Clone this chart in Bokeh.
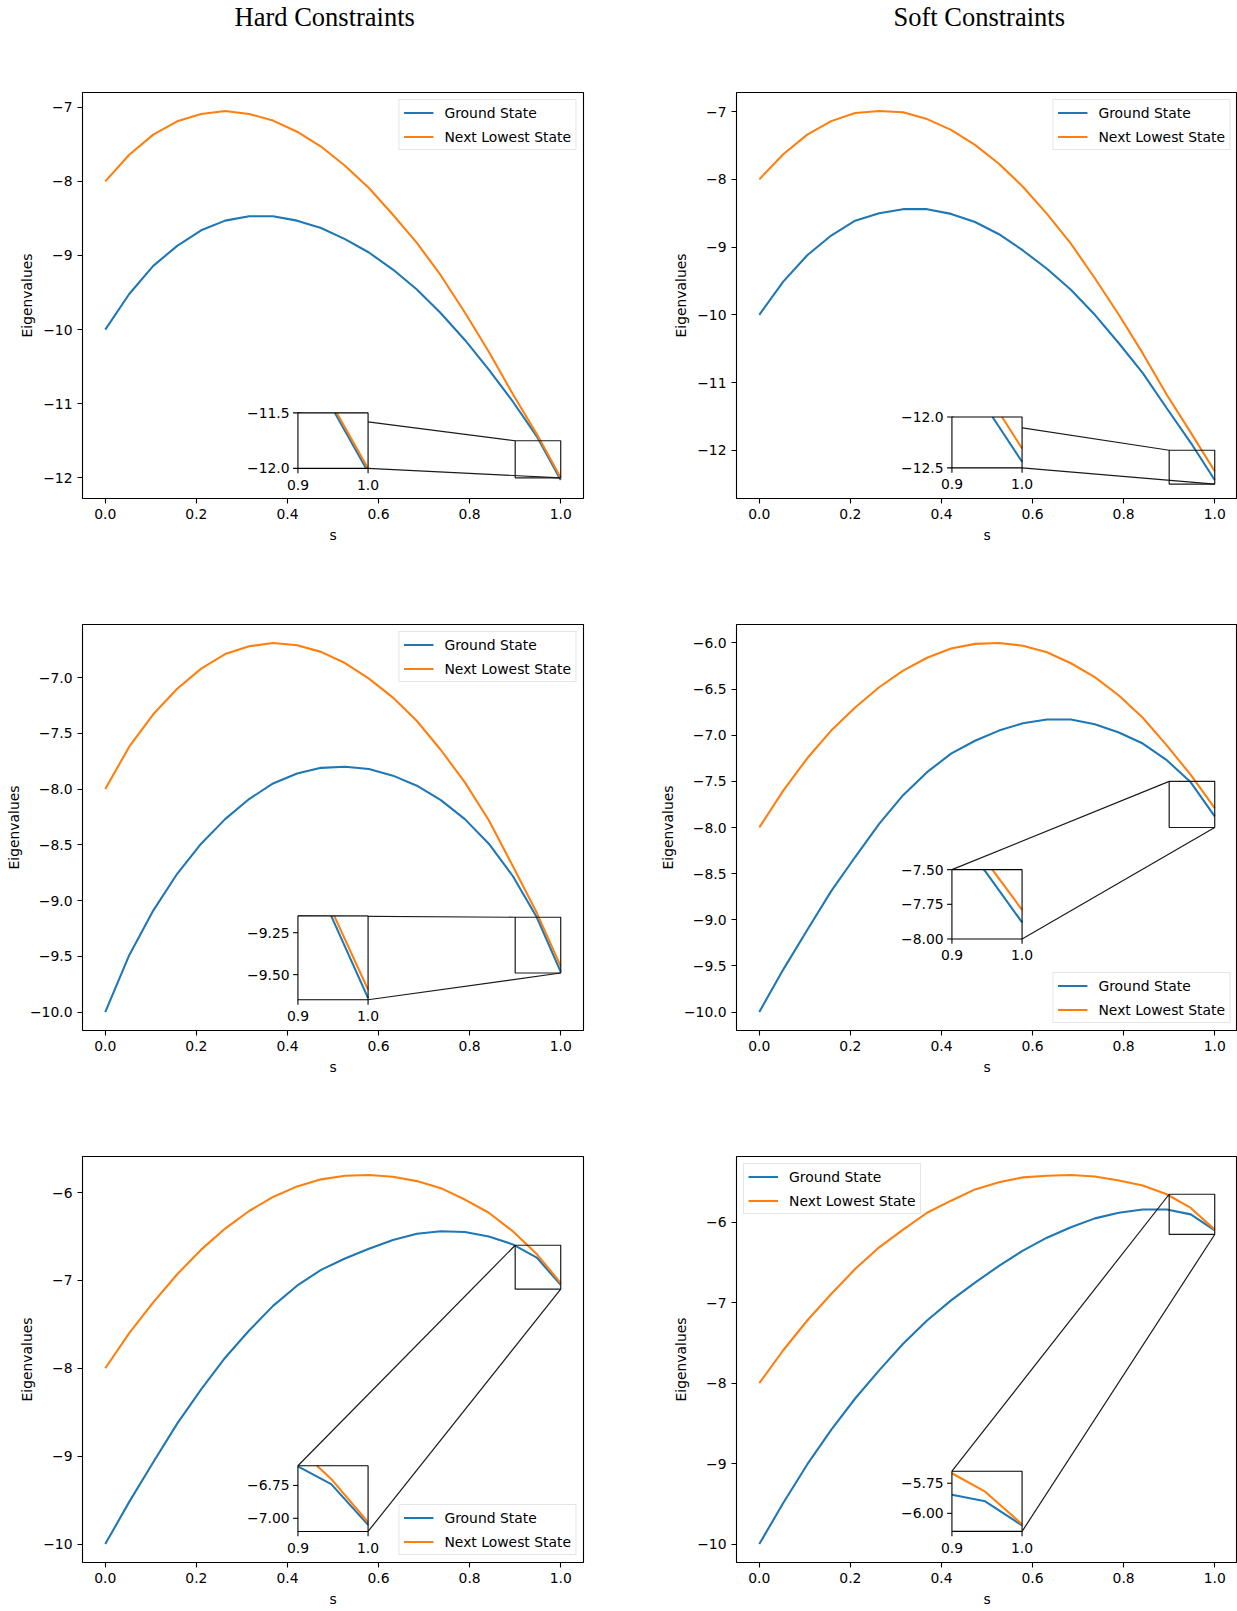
import numpy as np
from bokeh.plotting import figure
from bokeh.layouts import column, row
from bokeh.models import Range1d, FixedTicker, CustomJSTickFormatter
from bokeh.core.properties import value
from bokeh.embed import file_html
from bokeh.resources import INLINE

# ---------------- data ----------------
s = [0.0, 0.0526, 0.1053, 0.1579, 0.2105, 0.2632, 0.3158, 0.3684, 0.4211, 0.4737,
     0.5263, 0.5789, 0.6316, 0.6842, 0.7368, 0.7895, 0.8421, 0.8947, 0.9474, 1.0]

hard1_ground = [-10.00, -9.52, -9.14, -8.87, -8.66, -8.53, -8.47, -8.47, -8.53, -8.63,
                -8.78, -8.96, -9.19, -9.46, -9.78, -10.14, -10.54, -10.97, -11.44, -12.03]
hard1_next = [-8.00, -7.64, -7.37, -7.19, -7.09, -7.05, -7.09, -7.18, -7.33, -7.53,
              -7.79, -8.09, -8.45, -8.83, -9.27, -9.77, -10.30, -10.87, -11.41, -12.00]

soft1_ground = [-10.00, -9.51, -9.12, -8.83, -8.61, -8.50, -8.44, -8.44, -8.51, -8.63,
                -8.81, -9.05, -9.32, -9.63, -10.00, -10.42, -10.86, -11.38, -11.89, -12.44]
soft1_next = [-8.00, -7.63, -7.34, -7.14, -7.02, -6.99, -7.01, -7.11, -7.27, -7.49,
              -7.77, -8.11, -8.51, -8.95, -9.46, -10.00, -10.57, -11.18, -11.74, -12.31]

hard2_ground = [-10.00, -9.49, -9.09, -8.76, -8.49, -8.27, -8.09, -7.95, -7.86, -7.81,
                -7.80, -7.82, -7.88, -7.97, -8.10, -8.27, -8.49, -8.78, -9.15, -9.64]
hard2_next = [-8.00, -7.62, -7.33, -7.10, -6.92, -6.79, -6.72, -6.69, -6.71, -6.77,
              -6.87, -7.01, -7.18, -7.39, -7.65, -7.94, -8.28, -8.69, -9.11, -9.59]

soft2_ground = [-10.00, -9.54, -9.11, -8.69, -8.32, -7.96, -7.65, -7.40, -7.20, -7.06,
                -6.95, -6.87, -6.83, -6.83, -6.88, -6.97, -7.09, -7.27, -7.51, -7.88]
soft2_next = [-8.00, -7.60, -7.25, -6.95, -6.70, -6.48, -6.30, -6.16, -6.06, -6.01,
              -6.00, -6.03, -6.10, -6.22, -6.37, -6.57, -6.81, -7.11, -7.43, -7.79]

hard3_ground = [-10.00, -9.52, -9.07, -8.63, -8.24, -7.88, -7.57, -7.29, -7.06, -6.88,
                -6.75, -6.64, -6.54, -6.47, -6.44, -6.45, -6.50, -6.59, -6.74, -7.05]
hard3_next = [-8.00, -7.60, -7.25, -6.93, -6.65, -6.41, -6.21, -6.05, -5.93, -5.85,
              -5.81, -5.80, -5.82, -5.87, -5.95, -6.08, -6.23, -6.44, -6.70, -7.03]

soft3_ground = [-10.00, -9.49, -9.01, -8.58, -8.19, -7.84, -7.51, -7.22, -6.97, -6.75,
                -6.54, -6.35, -6.19, -6.06, -5.95, -5.88, -5.84, -5.84, -5.90, -6.10]
soft3_next = [-8.00, -7.59, -7.22, -6.89, -6.58, -6.31, -6.09, -5.88, -5.73, -5.59,
              -5.50, -5.44, -5.42, -5.41, -5.43, -5.48, -5.54, -5.65, -5.82, -6.09]

column_titles = ["Hard Constraints", "Soft Constraints"]
series_names = ["Ground State", "Next Lowest State"]
x_label = "s"
y_label = "Eigenvalues"

x_ticks = [0.0, 0.2, 0.4, 0.6, 0.8, 1.0]
x_tick_labels = ["0.0", "0.2", "0.4", "0.6", "0.8", "1.0"]

y_ticks_int_12 = [-12, -11, -10, -9, -8, -7]
y_labels_int_12 = ["\u221212", "\u221211", "\u221210", "\u22129", "\u22128", "\u22127"]
y_ticks_half = [-10.0, -9.5, -9.0, -8.5, -8.0, -7.5, -7.0, -6.5, -6.0]
y_labels_half = ["\u221210.0", "\u22129.5", "\u22129.0", "\u22128.5", "\u22128.0",
                 "\u22127.5", "\u22127.0", "\u22126.5", "\u22126.0"]
y_ticks_int_10 = [-10, -9, -8, -7, -6]
y_labels_int_10 = ["\u221210", "\u22129", "\u22128", "\u22127", "\u22126"]

zoom_x = [0.9, 1.0]
zoom_x_labels = ["0.9", "1.0"]
hard1_zoom_y = [-12.0, -11.5]
hard1_zoom_ticks = [-12.0, -11.5]
hard1_zoom_labels = ["\u221212.0", "\u221211.5"]
soft1_zoom_y = [-12.5, -12.0]
soft1_zoom_ticks = [-12.5, -12.0]
soft1_zoom_labels = ["\u221212.5", "\u221212.0"]
hard2_zoom_y = [-9.65, -9.15]
hard2_zoom_ticks = [-9.50, -9.25]
hard2_zoom_labels = ["\u22129.50", "\u22129.25"]
soft2_zoom_y = [-8.0, -7.5]
soft2_zoom_ticks = [-8.00, -7.75, -7.50]
soft2_zoom_labels = ["\u22128.00", "\u22127.75", "\u22127.50"]
hard3_zoom_y = [-7.10, -6.60]
hard3_zoom_ticks = [-7.00, -6.75]
hard3_zoom_labels = ["\u22127.00", "\u22126.75"]
soft3_zoom_y = [-6.15, -5.65]
soft3_zoom_ticks = [-6.00, -5.75]
soft3_zoom_labels = ["\u22126.00", "\u22125.75"]

# ---------------- styling / layout ----------------
BLUE = "#1f77b4"
ORANGE = "#ff7f0e"
FONT = "DejaVu Sans"
FS = "13.9px"
TICK = 4.86

PAGE_W = 1237
TITLE_H = 40
title_centers_px = [324.2, 978.7]   # horizontal centres of the column titles
title_baseline_px = 16              # text anchor, from top of title strip

inset_x_place = (0.423, 0.577)   # where the inset box sits (parent data coords)


def tick_formatter(tvals, tlabels):
    return CustomJSTickFormatter(args=dict(tvals=tvals, tlabels=tlabels), code="""
        for (let i = 0; i < tvals.length; i++) {
            if (Math.abs(tvals[i] - tick) < 1e-6) { return tlabels[i]; }
        }
        return '';
    """)


def clip_polyline(x, y, x0, x1, y0, y1):
    out_x, out_y = [], []
    cx, cy = [], []

    def flush():
        nonlocal cx, cy
        if len(cx) > 1:
            out_x.append(cx)
            out_y.append(cy)
        cx, cy = [], []

    for i in range(len(x) - 1):
        ax, ay, bx, by = x[i], y[i], x[i + 1], y[i + 1]
        dx, dy = bx - ax, by - ay
        t0, t1 = 0.0, 1.0
        ok = True
        for pp, qq in ((-dx, ax - x0), (dx, x1 - ax), (-dy, ay - y0), (dy, y1 - ay)):
            if pp == 0:
                if qq < 0:
                    ok = False
                    break
            else:
                t = qq / pp
                if pp < 0:
                    if t > t1:
                        ok = False
                        break
                    t0 = max(t0, t)
                else:
                    if t < t0:
                        ok = False
                        break
                    t1 = min(t1, t)
        if not ok:
            flush()
            continue
        px0, py0 = ax + t0 * dx, ay + t0 * dy
        px1, py1 = ax + t1 * dx, ay + t1 * dy
        if cx and abs(cx[-1] - px0) < 1e-12 and abs(cy[-1] - py0) < 1e-12:
            cx.append(px1)
            cy.append(py1)
        else:
            flush()
            cx, cy = [px0, px1], [py0, py1]
    flush()
    return out_x, out_y


def build(ground, nxt, yticks, ylabels, zoom_y, zticks, zlabels, inset_y_place,
          legend_loc, width, height, bl, br, bt, bb, ylab_standoff=5):
    lo = min(min(ground), min(nxt))
    hi = max(max(ground), max(nxt))
    pad = 0.05 * (hi - lo)
    p = figure(width=width, height=height,
               x_range=Range1d(-0.05, 1.05), y_range=Range1d(lo - pad, hi + pad),
               output_backend="svg", toolbar_location=None, title=None,
               min_border=0, min_border_left=bl, min_border_right=br,
               min_border_top=bt, min_border_bottom=bb)
    p.background_fill_color = "white"
    p.border_fill_color = "white"
    p.xgrid.visible = False
    p.ygrid.visible = False
    p.outline_line_color = "black"
    p.outline_line_width = 1.1
    p.outline_line_alpha = 1.0

    p.xaxis.ticker = FixedTicker(ticks=x_ticks)
    p.xaxis.formatter = tick_formatter(x_ticks, x_tick_labels)
    p.yaxis.ticker = FixedTicker(ticks=yticks)
    p.yaxis.formatter = tick_formatter(yticks, ylabels)
    p.xaxis.axis_label = x_label
    p.yaxis.axis_label = y_label
    for ax in (p.xaxis, p.yaxis):
        ax.axis_line_color = None
        ax.major_tick_out = 5
        ax.major_tick_in = 0
        ax.minor_tick_out = 0
        ax.minor_tick_in = 0
        ax.major_tick_line_color = "black"
        ax.major_tick_line_width = 1.1
        ax.major_label_text_font = FONT
        ax.major_label_text_font_size = FS
        ax.major_label_text_color = "black"
        ax.axis_label_text_font = FONT
        ax.axis_label_text_font_size = FS
        ax.axis_label_text_font_style = "normal"
        ax.axis_label_text_color = "black"
        ax.major_label_standoff = 5
    p.xaxis.axis_label_standoff = 5
    p.yaxis.axis_label_standoff = ylab_standoff

    p.line(s, ground, line_color=BLUE, line_width=2.08, legend_label=series_names[0])
    p.line(s, nxt, line_color=ORANGE, line_width=2.08, legend_label=series_names[1])

    # zoom indicator in parent axes
    zx0, zx1 = zoom_x
    zy0, zy1 = zoom_y
    ix0, ix1 = inset_x_place
    iy0, iy1 = inset_y_place
    p.quad(left=[zx0], right=[zx1], bottom=[zy0], top=[zy1], fill_color=None,
           line_color="#1a1a1a", line_width=1.2)
    p.segment(x0=[ix0, ix1], y0=[iy1, iy0], x1=[zx0, zx1], y1=[zy1, zy0],
              line_color="#1a1a1a", line_width=1.2)

    # inset axes
    p.quad(left=[ix0], right=[ix1], bottom=[iy0], top=[iy1], fill_color="white",
           line_color=None)
    sub = p.subplot(x_source=Range1d(zx0, zx1), y_source=Range1d(zy0, zy1),
                    x_target=Range1d(ix0, ix1), y_target=Range1d(iy0, iy1))
    for ys, col in ((ground, BLUE), (nxt, ORANGE)):
        mx, my = clip_polyline(s, ys, zx0, zx1, zy0, zy1)
        if mx:
            sub.multi_line(mx, my, line_color=col, line_width=2.08)
    p.quad(left=[ix0], right=[ix1], bottom=[iy0], top=[iy1], fill_color=None,
           line_color="black", line_width=1.1)
    sub.ray(x=[zx0] * len(zticks), y=zticks, length=TICK, length_units="screen",
            angle=np.pi, line_color="black", line_width=1.1)
    sub.ray(x=zoom_x, y=[zy0] * len(zoom_x), length=TICK, length_units="screen",
            angle=-np.pi / 2, line_color="black", line_width=1.1)
    sub.text(x=[zx0] * len(zticks), y=zticks, text=zlabels, x_offset=-(TICK + 3.5),
             text_align="right", text_baseline="middle", text_font=value(FONT),
             text_font_size=value(FS), text_color="black")
    sub.text(x=zoom_x, y=[zy0] * len(zoom_x), text=zoom_x_labels, y_offset=TICK + 6.5,
             text_align="center", text_baseline="top", text_font=value(FONT),
             text_font_size=value(FS), text_color="black")

    lg = p.legend[0]
    lg.location = legend_loc
    lg.margin = 7
    lg.padding = 4
    lg.spacing = 7
    lg.label_height = 17
    lg.glyph_height = 17
    lg.glyph_width = 30
    lg.label_standoff = 11
    lg.label_text_font = FONT
    lg.label_text_font_size = FS
    lg.label_text_color = "black"
    lg.border_line_color = "#cccccc"
    lg.border_line_width = 1
    lg.background_fill_alpha = 0.8
    return p


# title strip (pixel-mapped ranges)
tp = figure(width=PAGE_W, height=TITLE_H, x_range=Range1d(0, PAGE_W),
            y_range=Range1d(TITLE_H, 0), output_backend="svg", toolbar_location=None,
            x_axis_location=None, y_axis_location=None, min_border=0, title=None)
tp.xgrid.visible = False
tp.ygrid.visible = False
tp.outline_line_color = None
tp.background_fill_color = "white"
tp.border_fill_color = "white"
tp.text(x=title_centers_px, y=[title_baseline_px] * len(column_titles), text=column_titles,
        text_align="center", text_baseline="alphabetic",
        text_font=value("Liberation Serif"), text_font_size=value("26.5px"),
        text_color="black")

LW, RW = 648, 589
LBL, LBR = 82, 65
RBL, RBR = 88, 0

p1 = build(hard1_ground, hard1_next, y_ticks_int_12, y_labels_int_12, hard1_zoom_y,
           hard1_zoom_ticks, hard1_zoom_labels, (-11.873, -11.124), "top_right",
           LW, 548 - TITLE_H, LBL, LBR, 92 - TITLE_H, 50)
p2 = build(soft1_ground, soft1_next, y_ticks_int_12, y_labels_int_12, soft1_zoom_y,
           soft1_zoom_ticks, soft1_zoom_labels, (-12.26, -11.509), "top_right",
           RW, 548 - TITLE_H, RBL, RBR, 92 - TITLE_H, 50)
p3 = build(hard2_ground, hard2_next, y_ticks_half, y_labels_half, hard2_zoom_y,
           hard2_zoom_ticks, hard2_zoom_labels, (-9.89, -9.138), "top_right",
           LW, 532, LBL, LBR, 76, 50)
p4 = build(soft2_ground, soft2_next, y_ticks_half, y_labels_half, soft2_zoom_y,
           soft2_zoom_ticks, soft2_zoom_labels, (-9.208, -8.457), "bottom_right",
           RW, 532, RBL, RBR, 76, 50)
p5 = build(hard3_ground, hard3_next, y_ticks_int_10, y_labels_int_10, hard3_zoom_y,
           hard3_zoom_ticks, hard3_zoom_labels, (-9.857, -9.109), "bottom_right",
           LW, 531, LBL, LBR, 76, 49)
p6 = build(soft3_ground, soft3_next, y_ticks_int_10, y_labels_int_10, soft3_zoom_y,
           soft3_zoom_ticks, soft3_zoom_labels, (-9.843, -9.094), "top_left",
           RW, 531, RBL, RBR, 76, 49)

layout = column(tp, row(p1, p2), row(p3, p4), row(p5, p6))

with open("out.html", "w") as f:
    f.write(file_html(layout, INLINE))
